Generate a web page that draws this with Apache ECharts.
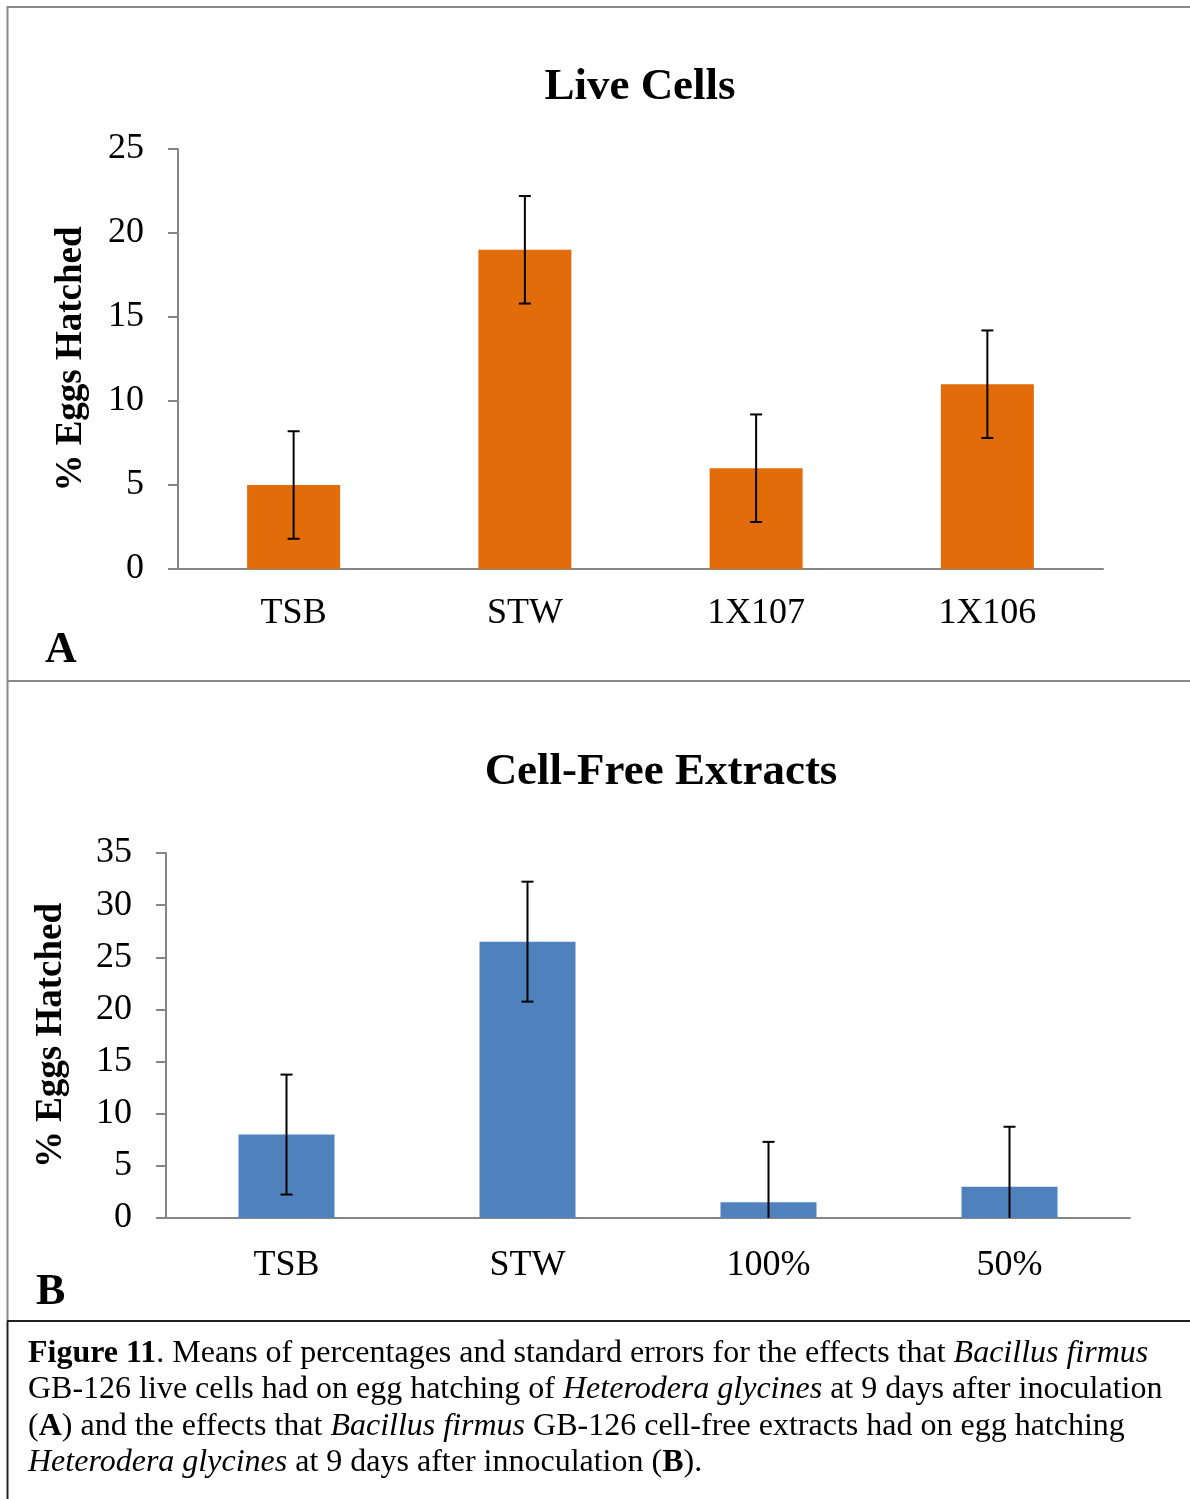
<!DOCTYPE html>
<html>
<head>
<meta charset="utf-8">
<script src="https://cdn.jsdelivr.net/npm/echarts@6/dist/echarts.min.js"></script>
<style>
  html, body { margin: 0; padding: 0; background: #fff; }
  #chart { width: 1190px; height: 1499px; }
</style>
</head>
<body>
<div id="chart"></div>
<script>
// panel A - live cells
var liveCats = ['TSB', 'STW', '1X107', '1X106'];
var liveMeans = [5, 19, 6, 11];
var liveSE = [3.2, 3.2, 3.2, 3.2];
var liveTicks = [0, 5, 10, 15, 20, 25];

// panel B - cell-free extracts
var extractCats = ['TSB', 'STW', '100%', '50%'];
var extractMeans = [8, 26.5, 1.5, 3];
var extractSE = [5.75, 5.75, 5.8, 5.75];
var extractTicks = [0, 5, 10, 15, 20, 25, 30, 35];

var captionLines = [
  '{b|Figure 11}. Means of percentages and standard errors for the effects that {i|Bacillus firmus}',
  'GB-126 live cells had on egg hatching of {i|Heterodera glycines} at 9 days after inoculation',
  '({b|A}) and the effects that {i|Bacillus firmus} GB-126 cell-free extracts had on egg hatching',
  '{i|Heterodera glycines} at 9 days after innoculation ({b|B}).'
];

var serif = '"Liberation Serif", "Times New Roman", serif';
var axisGray = '#868686';

function errData(means, se) {
  return means.map(function (m, i) {
    return [i, Math.max(0, m - se[i]), m + se[i]];
  });
}

function errRender(params, api) {
  var idx = api.value(0), lo = api.value(1), hi = api.value(2);
  var top = api.coord([idx, hi]);
  var bot = api.coord([idx, lo]);
  var w = 6;
  var st = { stroke: '#000', lineWidth: 2 };
  var kids = [
    { type: 'line', shape: { x1: top[0], y1: top[1], x2: bot[0], y2: bot[1] }, style: st },
    { type: 'line', shape: { x1: top[0] - w, y1: top[1], x2: top[0] + w, y2: top[1] }, style: st }
  ];
  if (lo > 0) {
    kids.push({ type: 'line', shape: { x1: bot[0] - w, y1: bot[1], x2: bot[0] + w, y2: bot[1] }, style: st });
  }
  return { type: 'group', children: kids };
}

function yAxisFor(gridIndex, ticks, gap) {
  return {
    type: 'value', gridIndex: gridIndex,
    min: ticks[0], max: ticks[ticks.length - 1], interval: ticks[1] - ticks[0],
    name: '% Eggs Hatched', nameLocation: 'middle', nameGap: gap,
    nameTextStyle: { fontFamily: serif, fontSize: 37, fontWeight: 'bold', color: '#000' },
    axisLine: { show: true, lineStyle: { color: axisGray, width: 2 } },
    axisTick: { show: true, length: 10, lineStyle: { color: axisGray, width: 2 } },
    axisLabel: { fontFamily: serif, fontSize: 36, color: '#000', margin: 34 },
    splitLine: { show: false }
  };
}

function xAxisFor(gridIndex, cats, margin) {
  return {
    type: 'category', gridIndex: gridIndex, data: cats,
    axisLine: { show: true, lineStyle: { color: axisGray, width: 2 } },
    axisTick: { show: false },
    axisLabel: { fontFamily: serif, fontSize: 36, color: '#000', margin: margin }
  };
}

var chart = echarts.init(document.getElementById('chart'), null, { renderer: 'canvas' });

chart.setOption({
  backgroundColor: '#fff',
  animation: false,
  title: [
    { text: 'Live Cells', left: 635, top: 60, textAlign: 'center',
      textStyle: { fontFamily: serif, fontSize: 45, fontWeight: 'bold', color: '#000' } },
    { text: 'Cell-Free Extracts', left: 656, top: 745, textAlign: 'center',
      textStyle: { fontFamily: serif, fontSize: 45, fontWeight: 'bold', color: '#000' } }
  ],
  grid: [
    { left: 178, top: 149, width: 925, height: 420 },
    { left: 166, top: 853, width: 964, height: 365 }
  ],
  xAxis: [xAxisFor(0, liveCats, 27), xAxisFor(1, extractCats, 30)],
  yAxis: [yAxisFor(0, liveTicks, 88), yAxisFor(1, extractTicks, 96)],
  series: [
    { type: 'bar', xAxisIndex: 0, yAxisIndex: 0, data: liveMeans, barWidth: 93,
      itemStyle: { color: '#E36C0A' } },
    { type: 'custom', xAxisIndex: 0, yAxisIndex: 0, data: errData(liveMeans, liveSE),
      renderItem: errRender, z: 5 },
    { type: 'bar', xAxisIndex: 1, yAxisIndex: 1, data: extractMeans, barWidth: 96,
      itemStyle: { color: '#4F81BD' } },
    { type: 'custom', xAxisIndex: 1, yAxisIndex: 1, data: errData(extractMeans, extractSE),
      renderItem: errRender, z: 5 }
  ],
  graphic: [
    // frame lines
    { type: 'line', shape: { x1: 7.5, y1: 6, x2: 7.5, y2: 1321 }, style: { stroke: '#888', lineWidth: 2 } },
    { type: 'line', shape: { x1: 7, y1: 7, x2: 1190, y2: 7 }, style: { stroke: '#888', lineWidth: 2 } },
    { type: 'line', shape: { x1: 7, y1: 681, x2: 1190, y2: 681 }, style: { stroke: '#888', lineWidth: 2 } },
    { type: 'line', shape: { x1: 7, y1: 1321, x2: 1190, y2: 1321 }, style: { stroke: '#222', lineWidth: 2 } },
    { type: 'line', shape: { x1: 7.5, y1: 1321, x2: 7.5, y2: 1499 }, style: { stroke: '#222', lineWidth: 2 } },
    // panel letters
    { type: 'text', left: 45, top: 629,
      style: { text: 'A', font: 'bold 44px ' + serif, fill: '#000' } },
    { type: 'text', left: 36, top: 1271,
      style: { text: 'B', font: 'bold 44px ' + serif, fill: '#000' } },
    // caption
    { type: 'text', left: 28, top: 1335,
      style: {
        text: captionLines.join('\n'),
        fontFamily: serif, fontSize: 32, fill: '#000', lineHeight: 36.5,
        rich: {
          b: { fontFamily: serif, fontSize: 32, fontWeight: 'bold', lineHeight: 36.5, fill: '#000' },
          i: { fontFamily: serif, fontSize: 32, fontStyle: 'italic', lineHeight: 36.5, fill: '#000' }
        }
      } }
  ]
});
</script>
</body>
</html>
